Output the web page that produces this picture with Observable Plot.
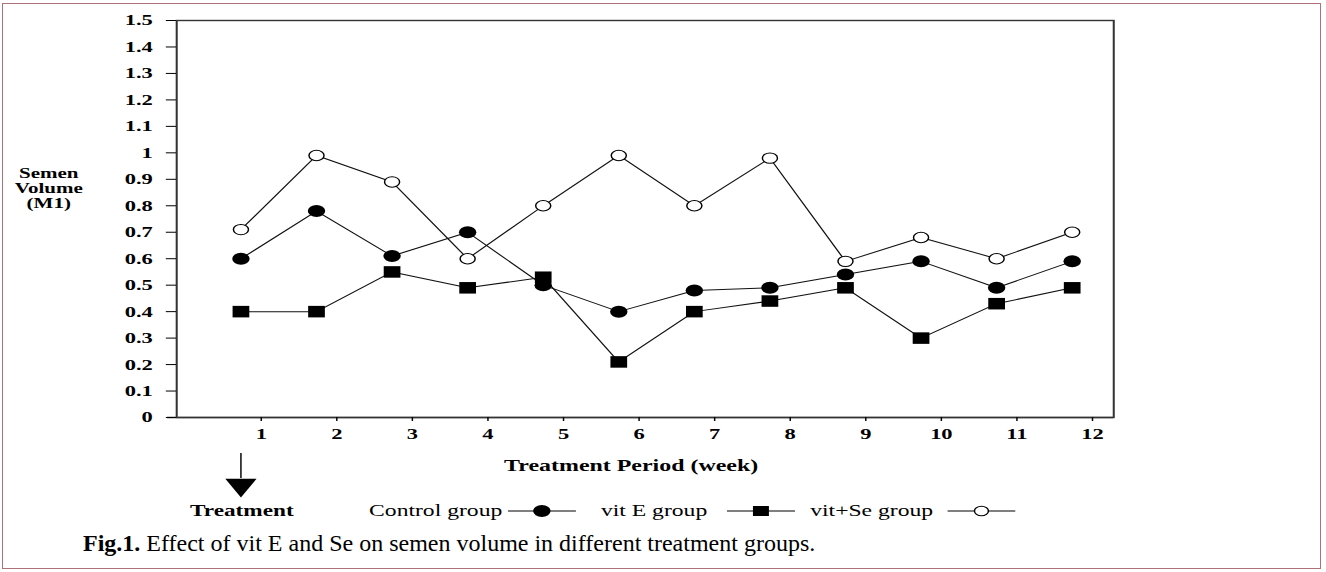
<!DOCTYPE html>
<html>
<head>
<meta charset="utf-8">
<script src="https://cdn.jsdelivr.net/npm/d3@7"></script>
<script src="https://cdn.jsdelivr.net/npm/@observablehq/plot@0.6"></script>
<style>
  html, body { margin: 0; padding: 0; background: #fff; }
  body { width: 1326px; height: 572px; position: relative; overflow: hidden; font-family: "Liberation Serif", "Times New Roman", serif; }
  #border { position: absolute; left: 2px; top: 3px; width: 1319px; height: 566px; border: 1.5px solid #b0707a; box-sizing: border-box; }
  #stretch { position: absolute; left: 0; top: 0; width: 914px; height: 572px; transform-origin: 0 0; }
  #stretch svg { position: absolute; left: 0; top: 0; }
  #legend { position: absolute; left: 131px; top: 503px; height: 16px; display: flex; align-items: center; font-size: 16.3px; line-height: 16px; color: #000; white-space: nowrap; }
  #legend .treat { font-weight: bold; font-size: 16px; margin-right: 52px; }
  #legend .item { display: flex; align-items: center; }
  #legend .item svg { position: static; }
  #legend .i0 svg { margin-left: 4px; margin-right: 17px; }
  #legend .i1 svg { margin-left: 14px; margin-right: 10px; }
  #legend .i2 svg { margin-left: 10px; margin-right: 0; }
  #caption { position: absolute; left: 83px; top: 531px; font-size: 24px; line-height: 24px; color: #000; white-space: nowrap; }
  #caption b { font-weight: bold; }
</style>
</head>
<body>
<div id="border"></div>
<div id="stretch"><div id="legend"></div></div>
<div id="caption"><b>Fig.1.</b> Effect of vit E and Se on semen volume in different treatment groups.</div>
<script>
// ---- data ----
const weeks = [1, 2, 3, 4, 5, 6, 7, 8, 9, 10, 11, 12];
const controlGroup = [0.60, 0.78, 0.61, 0.70, 0.50, 0.40, 0.48, 0.49, 0.54, 0.59, 0.49, 0.59];
const vitEGroup    = [0.40, 0.40, 0.55, 0.49, 0.53, 0.21, 0.40, 0.44, 0.49, 0.30, 0.43, 0.49];
const vitSeGroup   = [0.71, 0.99, 0.89, 0.60, 0.80, 0.99, 0.80, 0.98, 0.59, 0.68, 0.60, 0.70];
const seriesNames  = ["Control group", "vit E group", "vit+Se group"];
const yTicks = [0, 0.1, 0.2, 0.3, 0.4, 0.5, 0.6, 0.7, 0.8, 0.9, 1, 1.1, 1.2, 1.3, 1.4, 1.5];
const yTitle = "Semen\nVolume\n(M1)";
const xTitle = "Treatment Period (week)";
const startLabel = "Treatment";

// ---- build table ----
const seriesValues = [controlGroup, vitEGroup, vitSeGroup];
const rows = [];
seriesNames.forEach((name, i) => weeks.forEach((w, j) => rows.push({series: name, week: w, value: seriesValues[i][j]})));
const bySeries = name => rows.filter(r => r.series === name);

// the original figure is horizontally stretched; reproduce with a scaleX on the chart block
const W = 914;
const S = 1326 / W;
document.getElementById("stretch").style.transform = `scaleX(${S})`;

const chart = Plot.plot({
  width: W,
  height: 500,
  marginLeft: 121.3,
  marginRight: 146.8,
  marginTop: 20,
  marginBottom: 83,
  x: {domain: [0.15, 12.55]},
  y: {domain: [0, 1.5]},
  style: {fontFamily: "Liberation Serif, Times New Roman, serif", color: "#000", background: "transparent", overflow: "visible"},
  marks: [
    Plot.frame({stroke: "#333", strokeWidth: 1.4}),
    Plot.ruleY([0], {stroke: "#333", strokeWidth: 1.4, insetLeft: -6.2}),
    Plot.axisY(yTicks, {tickSize: 7, tickPadding: 9.5, fontSize: 15.5, fontWeight: "bold", tickFormat: d => String(d), label: null}),
    Plot.axisX(weeks, {tickSize: 4, tickPadding: 6, fontSize: 15.5, fontWeight: "bold", dx: 14, tickFormat: d => String(d), label: null}),
    Plot.text([yTitle], {frameAnchor: "left", dx: -88.2, dy: -30.5, textAnchor: "middle", lineAnchor: "middle", lineHeight: 1.03, fontSize: 14.5, fontWeight: "bold"}),
    Plot.text([xTitle], {frameAnchor: "bottom", dy: 48, dx: -9.7, textAnchor: "middle", lineAnchor: "middle", fontSize: 16.5, fontWeight: "bold"}),
    // treatment start arrow under week 1
    Plot.ruleX([weeks[0]], {stroke: "#000", strokeWidth: 1, insetTop: 433, insetBottom: -61}),
    Plot.dot([weeks[0]], {x: d => d, frameAnchor: "bottom", dy: 67.5, symbol: "triangle", rotate: 180, r: 8, fill: "#000", stroke: "none"}),
    // series lines
    ...seriesNames.map(name => Plot.line(bySeries(name), {x: "week", y: "value", stroke: "#111", strokeWidth: 1})),
    // markers
    Plot.dot(bySeries(seriesNames[1]), {x: "week", y: "value", symbol: "square", r: 6.5, fill: "#000", stroke: "none"}),
    Plot.dot(bySeries(seriesNames[0]), {x: "week", y: "value", symbol: "circle", r: 6, fill: "#000", stroke: "none"}),
    Plot.dot(bySeries(seriesNames[2]), {x: "week", y: "value", symbol: "circle", r: 5.2, fill: "#fff", stroke: "#000", strokeWidth: 1})
  ]
});
document.getElementById("stretch").insertBefore(chart, document.getElementById("legend"));

// ---- legend ----
const legend = document.getElementById("legend");
const t = document.createElement("span");
t.className = "treat";
t.textContent = startLabel;
legend.appendChild(t);
const markerSvg = [
  '<circle cx="23.5" cy="8" r="6" fill="#000"/>',
  '<rect x="18" y="3" width="11" height="10" fill="#000"/>',
  '<circle cx="23.5" cy="8" r="4.8" fill="#fff" stroke="#000" stroke-width="1"/>'
];
seriesNames.forEach((name, i) => {
  const item = document.createElement("span");
  item.className = "item i" + i;
  item.innerHTML = `<span>${name}</span><svg width="47" height="16" viewBox="0 0 47 16"><line x1="0" y1="8" x2="47" y2="8" stroke="#000" stroke-width="1"/>${markerSvg[i]}</svg>`;
  legend.appendChild(item);
});
</script>
</body>
</html>
